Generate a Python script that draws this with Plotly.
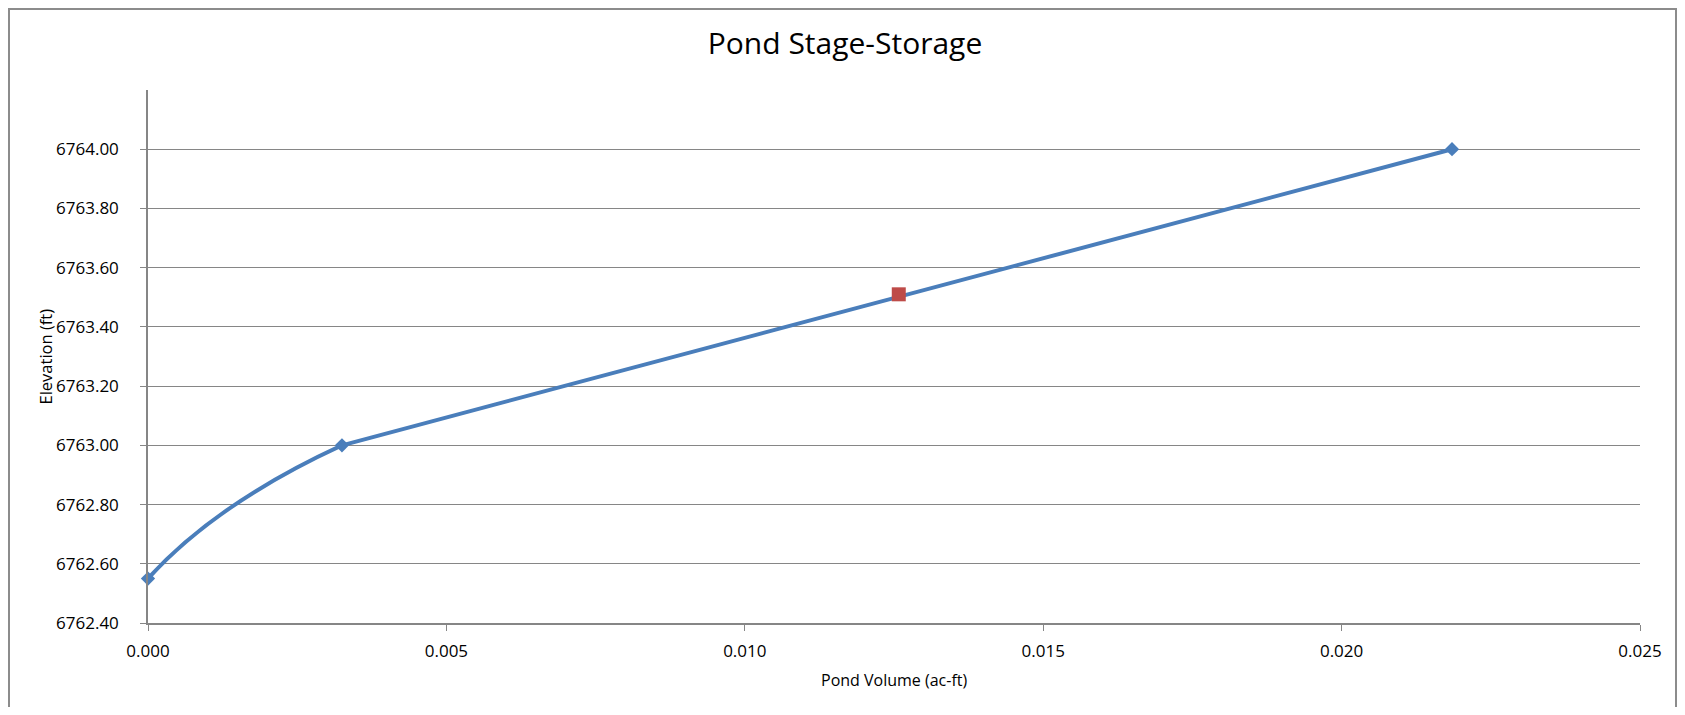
import plotly.graph_objects as go

volume = [0.0, 0.00325, 0.02185]
elevation = [6762.55, 6763.00, 6764.00]
point_volume = [0.01258]
point_elevation = [6763.51]
y_ticks = [6762.40, 6762.60, 6762.80, 6763.00, 6763.20, 6763.40, 6763.60, 6763.80, 6764.00]
x_ticks = [0.000, 0.005, 0.010, 0.015, 0.020, 0.025]

# page body has an 8px margin; figure sized to fit the 1685x715 window
W, H = 1669, 699
ml, mr, mt, mb = 140, 37, 82, 84
pw, ph = W - ml - mr, H - mt - mb

FONT = "Open Sans, Lato, sans-serif"
gray = "#868686"
blue = "#4A7EBB"
x_range = [0, 0.025]
y_range = [6762.40, 6764.20]

fig = go.Figure()
# smooth curve, shown only up to the second point (clipped by a sub-domain with identical scale)
fig.add_trace(go.Scatter(
    x=volume, y=elevation, mode="lines", xaxis="x2", yaxis="y2",
    line=dict(color=blue, width=4, shape="spline", smoothing=1.3),
    showlegend=False, hoverinfo="skip"))
# remaining (nearly straight) part of the curve
fig.add_trace(go.Scatter(
    x=volume[1:], y=elevation[1:], mode="lines",
    line=dict(color=blue, width=4, shape="spline", smoothing=0.2),
    showlegend=False, hoverinfo="skip"))
fig.add_trace(go.Scatter(
    x=volume, y=elevation, mode="markers",
    marker=dict(symbol="diamond", size=11, color=blue),
    showlegend=False, cliponaxis=False))
fig.add_trace(go.Scatter(
    x=point_volume, y=point_elevation, mode="markers",
    marker=dict(symbol="square", size=14, color="#BE4B48"),
    showlegend=False, cliponaxis=False))

split = (volume[1] - x_range[0]) / (x_range[1] - x_range[0])

fig.update_layout(
    width=W, height=H,
    margin=dict(l=ml, r=mr, t=mt, b=mb, autoexpand=False),
    paper_bgcolor="white", plot_bgcolor="rgba(0,0,0,0)",
    font=dict(family=FONT, color="#000000"),
    title=dict(text="Pond Stage-Storage", xref="container", x=837 / W, xanchor="center",
               yref="container", y=1 - 35 / H, yanchor="middle",
               font=dict(size=30, color="#000")),
    xaxis=dict(range=x_range, tickvals=x_ticks, ticktext=[f"{v:.3f}" for v in x_ticks],
               showgrid=False, zeroline=False, showline=True, linecolor=gray, linewidth=1.5,
               ticks="outside", ticklen=6, tickcolor=gray, tickwidth=1,
               tickfont=dict(size=17), ticklabelstandoff=6, automargin=False),
    yaxis=dict(range=y_range, tickvals=y_ticks, ticktext=[f"{v:.2f}" for v in y_ticks],
               showgrid=True, gridcolor=gray, gridwidth=1, zeroline=False,
               showline=True, linecolor=gray, linewidth=1.5,
               ticks="outside", ticklen=6, tickcolor=gray, tickwidth=1,
               tickfont=dict(size=17), ticklabelstandoff=18, automargin=False),
    xaxis2=dict(domain=[0, split], range=[x_range[0], volume[1]], visible=False,
                anchor="y2", fixedrange=True),
    yaxis2=dict(domain=[0, 1], range=y_range, visible=False, anchor="x2", fixedrange=True),
    annotations=[
        dict(text="Pond Volume (ac-ft)", xref="paper", yref="paper", x=0.5,
             y=(H - mb - 672) / ph,
             xanchor="center", yanchor="middle", showarrow=False, font=dict(size=16)),
        dict(text="Elevation (ft)", xref="paper", yref="paper", x=(37 - ml) / pw, y=0.5,
             xanchor="center", yanchor="middle", textangle=-90, showarrow=False,
             font=dict(size=16.5)),
    ],
)

# chart border
fig.add_shape(type="rect", xref="paper", yref="paper",
              x0=(1 - ml) / pw, x1=(W - 1 - ml) / pw,
              y0=(H - mb - 720) / ph, y1=(H - mb - 1) / ph,
              line=dict(color="#8C8C8C", width=2), layer="below")

fig.write_html("out.html")
